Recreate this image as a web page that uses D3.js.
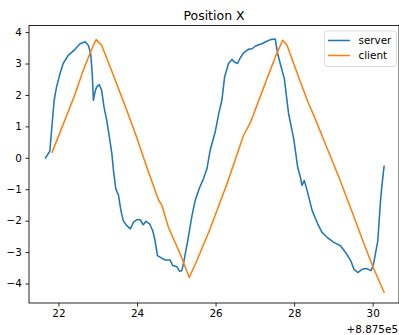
<!DOCTYPE html>
<html>
  <head>
    <meta charset="utf-8">
    <title>Position X</title>
    <script src="https://d3js.org/d3.v7.min.js"></script>
    <style>
      body { margin: 0; background: #fff; }
      svg { display: block; font-family: "DejaVu Sans", sans-serif; }
    </style>
  </head>

  <body>
    <svg width="399" height="335"></svg>

    <script type="text/javascript">
      // time values are shown relative to the axis offset (+8.875e5)
      var offsetLabel = "+8.875e5";
      var xTicks = [22, 24, 26, 28, 30];
      var yTicks = [-4, -3, -2, -1, 0, 1, 2, 3, 4];
      var seriesNames = ["server", "client"];

      var serverX = [21.67, 21.78, 21.89, 21.95, 22.04, 22.12, 22.25, 22.38, 22.46, 22.55,
        22.68, 22.76, 22.82, 22.86, 22.89, 22.93, 22.97, 23.04, 23.10, 23.16,
        23.23, 23.31, 23.36, 23.40, 23.46, 23.53, 23.59, 23.65, 23.74, 23.83,
        23.91, 24.00, 24.08, 24.16, 24.23, 24.32, 24.40, 24.46, 24.52, 24.63,
        24.72, 24.84, 24.91, 25.02, 25.08, 25.14, 25.18, 25.29, 25.40, 25.48,
        25.59, 25.69, 25.78, 25.86, 25.99, 26.08, 26.16, 26.23, 26.33, 26.42,
        26.48, 26.56, 26.62, 26.71, 26.83, 26.93, 27.01, 27.10, 27.18, 27.29,
        27.40, 27.52, 27.58, 27.67, 27.75, 27.86, 27.99, 28.09, 28.16, 28.20,
        28.26, 28.31, 28.46, 28.60, 28.71, 28.84, 29.01, 29.18, 29.31, 29.44,
        29.52, 29.62, 29.74, 29.84, 29.96, 30.03, 30.13, 30.20, 30.24, 30.29];
      var serverY = [0.00, 0.21, 1.83, 2.25, 2.68, 3.00, 3.26, 3.40, 3.51, 3.63,
        3.69, 3.58, 3.32, 2.68, 1.83, 2.09, 2.25, 2.33, 2.14, 1.61,
        1.19, 0.55, 0.13, -0.40, -0.99, -1.20, -1.68, -2.00, -2.16, -2.26,
        -2.05, -1.97, -1.97, -2.13, -2.02, -2.10, -2.32, -2.64, -3.11, -3.19,
        -3.25, -3.25, -3.43, -3.47, -3.61, -3.59, -3.38, -2.64, -1.84, -1.36,
        -0.96, -0.67, -0.35, 0.23, 0.82, 1.40, 1.83, 2.57, 3.00, 3.13,
        3.05, 3.00, 3.16, 3.33, 3.45, 3.47, 3.55, 3.60, 3.63, 3.70,
        3.76, 3.78, 3.32, 2.89, 2.52, 1.40, 0.60, -0.30, -0.62, -0.88,
        -0.72, -0.94, -1.68, -2.10, -2.37, -2.53, -2.69, -2.80, -3.01, -3.27,
        -3.54, -3.65, -3.54, -3.52, -3.59, -3.33, -2.64, -1.36, -0.83, -0.27];

      var clientX = [21.84, 22.10, 22.40, 22.63, 22.85, 22.96, 23.10, 23.40, 23.74, 24.00,
        24.25, 24.55, 24.63, 24.80, 25.10, 25.33, 25.53, 25.86, 26.29, 26.71,
        26.89, 27.31, 27.52, 27.71, 27.82, 28.16, 28.37, 28.50, 28.76, 29.14,
        29.48, 29.78, 30.03, 30.29];
      var clientY = [0.18, 1.00, 1.95, 2.78, 3.47, 3.76, 3.58, 2.62, 1.51, 0.62,
        -0.30, -1.35, -1.50, -2.21, -3.06, -3.81, -3.25, -2.26, -0.83, 0.71,
        1.13, 2.52, 3.21, 3.74, 3.58, 2.41, 1.72, 1.35, 0.55, -0.62,
        -1.73, -2.74, -3.54, -4.28];

      var colors = ["#1f77b4", "#ff7f0e"];

      var series = [
        { name: seriesNames[0], values: d3.zip(serverX, serverY) },
        { name: seriesNames[1], values: d3.zip(clientX, clientY) }
      ];

      var svg = d3.select("svg"),
        axLeft = 29, axRight = 399, axTop = 25.5, axBottom = 303;

      var xScale = d3.scaleLinear().domain([21.25, 30.67]).range([axLeft, axRight]);
      var yScale = d3.scaleLinear().domain([-4.62, 4.21]).range([axBottom, axTop]);

      var fontSize = "10.4px";

      // x axis
      var gx = svg.append("g")
        .attr("transform", "translate(0," + axBottom + ")")
        .call(d3.axisBottom(xScale).tickValues(xTicks).tickSizeInner(3.6).tickSizeOuter(0).tickPadding(3.5));
      // y axis
      var gy = svg.append("g")
        .attr("transform", "translate(" + axLeft + ",0)")
        .call(d3.axisLeft(yScale).tickValues(yTicks).tickSizeInner(3.6).tickSizeOuter(0).tickPadding(3.5)
          .tickFormat(function (d) { return d < 0 ? "\u2212" + Math.abs(d) : d; }));

      [gx, gy].forEach(function (g) {
        g.select(".domain").remove();
        g.selectAll(".tick line").attr("stroke", "#000").attr("stroke-width", 0.85);
        g.selectAll(".tick text")
          .attr("fill", "#000")
          .style("font-family", "DejaVu Sans")
          .style("font-size", fontSize);
      });

      // lines
      var lineGenerator = d3.line()
        .x(function (d) { return xScale(d[0]); })
        .y(function (d) { return yScale(d[1]); });

      svg.append("defs").append("clipPath").attr("id", "clip")
        .append("rect").attr("x", axLeft).attr("y", axTop)
        .attr("width", axRight - axLeft).attr("height", axBottom - axTop);

      svg.append("g").attr("clip-path", "url(#clip)")
        .selectAll("path")
        .data(series)
        .enter()
        .append("path")
        .attr("fill", "none")
        .attr("stroke", function (d, i) { return colors[i]; })
        .attr("stroke-width", 1.55)
        .attr("stroke-linejoin", "round")
        .attr("stroke-linecap", "square")
        .attr("d", function (d) { return lineGenerator(d.values); });

      // spines
      svg.append("rect")
        .attr("x", axLeft).attr("y", axTop)
        .attr("width", axRight - axLeft).attr("height", axBottom - axTop)
        .attr("fill", "none")
        .attr("stroke", "#000")
        .attr("stroke-width", 0.85);

      // title
      svg.append("text")
        .attr("x", (axLeft + axRight) / 2)
        .attr("y", 20)
        .attr("text-anchor", "middle")
        .style("font-size", "12.5px")
        .attr("fill", "#000")
        .text("Position X");

      // offset text
      svg.append("text")
        .attr("x", 398)
        .attr("y", 333)
        .attr("text-anchor", "end")
        .style("font-size", fontSize)
        .attr("fill", "#000")
        .text(offsetLabel);

      // legend
      var legend = svg.append("g").attr("transform", "translate(324.5,31)");
      legend.append("rect")
        .attr("width", 72).attr("height", 35.5)
        .attr("rx", 2.5)
        .attr("fill", "#fff").attr("fill-opacity", 0.8)
        .attr("stroke", "#d6d6d6").attr("stroke-width", 0.85);

      var items = legend.selectAll("g.item")
        .data(series)
        .enter()
        .append("g")
        .attr("class", "item")
        .attr("transform", function (d, i) { return "translate(0," + (9.5 + i * 15) + ")"; });
      items.append("line")
        .attr("x1", 3.5).attr("x2", 25.5)
        .attr("stroke", function (d, i) { return colors[i]; })
        .attr("stroke-width", 1.55);
      items.append("text")
        .attr("x", 34)
        .attr("dy", "0.35em")
        .style("font-size", fontSize)
        .attr("fill", "#000")
        .text(function (d) { return d.name; });
    </script>
  </body>
</html>
